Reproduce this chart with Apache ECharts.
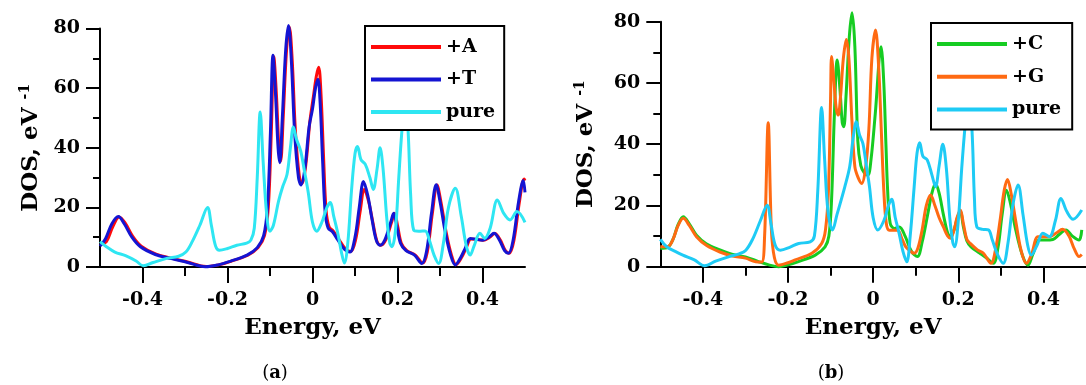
<!DOCTYPE html>
<html>
<head>
<meta charset="utf-8">
<script src="https://cdn.jsdelivr.net/npm/echarts@6/dist/echarts.min.js"></script>
<style>
  html, body { margin: 0; padding: 0; background: #fff; }
  #chart { width: 1086px; height: 385px; }
</style>
</head>
<body>
<div id="chart"></div>
<script>
// ---------- Data ----------
const majorEnergyTicks = [-0.4, -0.2, 0, 0.2, 0.4];
const minorEnergyTicks = [-0.3, -0.1, 0.1, 0.3];

// Panel (a): +A
const energyA = [-0.5, -0.485, -0.47, -0.455, -0.441, -0.423, -0.403, -0.368, -0.33, -0.294, -0.25, -0.218, -0.192, -0.152, -0.128, -0.113, -0.104, -0.097, -0.091, -0.085, -0.079, -0.075, -0.069, -0.061, -0.0545, -0.048, -0.04, -0.031, -0.025, -0.016, -0.006, 0.002, 0.009, 0.0145, 0.02, 0.026, 0.032, 0.039, 0.049, 0.062, 0.077, 0.09, 0.102, 0.112, 0.122, 0.132, 0.142, 0.152, 0.161, 0.172, 0.186, 0.193, 0.2, 0.209, 0.222, 0.242, 0.259, 0.27, 0.282, 0.293, 0.302, 0.314, 0.327, 0.338, 0.35, 0.362, 0.373, 0.387, 0.402, 0.417, 0.429, 0.442, 0.454, 0.463, 0.474, 0.487, 0.498, 0.5];
const dosA    = [7.5, 8.5, 13.5, 16.8, 14.8, 10.3, 7.0, 4.3, 2.9, 1.7, 0.2, 0.8, 1.9, 4.0, 6.5, 10.5, 20, 45, 70.5, 58, 40, 35.5, 50, 73, 80.5, 70, 45, 30.5, 28, 34, 49, 57, 64, 67, 58, 37, 19, 13.5, 12, 9.3, 6.2, 5.2, 9.5, 18.5, 26, 22, 15, 8.5, 7.3, 9, 15, 18, 14, 8, 5.5, 4, 1.3, 5, 18, 27.5, 22, 12, 4, 0.8, 3, 6.5, 9.4, 9.2, 9, 10, 11.2, 9, 5.5, 4.6, 9, 22, 29.5, 29];

// Panel (a): +T
const energyT = [-0.5, -0.487, -0.472, -0.457, -0.443, -0.425, -0.405, -0.37, -0.332, -0.296, -0.252, -0.22, -0.194, -0.154, -0.13, -0.115, -0.106, -0.099, -0.093, -0.087, -0.081, -0.077, -0.071, -0.063, -0.0565, -0.05, -0.042, -0.033, -0.027, -0.018, -0.008, 0.0, 0.007, 0.0127, 0.018, 0.024, 0.03, 0.037, 0.047, 0.06, 0.075, 0.088, 0.1, 0.11, 0.12, 0.13, 0.14, 0.15, 0.159, 0.17, 0.184, 0.191, 0.198, 0.207, 0.22, 0.24, 0.257, 0.268, 0.28, 0.291, 0.3, 0.312, 0.325, 0.336, 0.348, 0.36, 0.371, 0.385, 0.4, 0.415, 0.427, 0.44, 0.452, 0.461, 0.472, 0.485, 0.496, 0.5];
const dosT    = [7.0, 9.5, 14.5, 16.9, 14.5, 10.0, 6.8, 4.2, 2.8, 1.6, 0.1, 0.8, 1.9, 4.0, 6.5, 10.5, 20, 45, 71, 58, 40, 35, 50, 73, 81, 70, 45, 30, 27.5, 33, 47, 53, 60, 63, 55, 35, 18, 13, 11.8, 9, 6, 5, 10, 20, 28.7, 24, 16, 9, 7.3, 9, 15, 18, 14, 8, 5.5, 4, 1.2, 5, 18, 27.6, 22, 12, 4, 0.7, 3, 6.5, 9.6, 9.3, 9, 10, 11.3, 9, 5.5, 4.6, 9, 22, 29, 25];

// Panel (a): pure
const energyPureA = [-0.5, -0.485, -0.465, -0.44, -0.415, -0.398, -0.375, -0.343, -0.315, -0.298, -0.283, -0.265, -0.247, -0.238, -0.228, -0.219, -0.2, -0.178, -0.155, -0.145, -0.137, -0.13, -0.123, -0.116, -0.108, -0.1, -0.092, -0.08, -0.07, -0.06, -0.052, -0.045, -0.038, -0.028, -0.02, -0.01, 0.0, 0.01, 0.022, 0.034, 0.042, 0.05, 0.06, 0.068, 0.075, 0.083, 0.092, 0.1, 0.106, 0.114, 0.124, 0.135, 0.143, 0.152, 0.159, 0.166, 0.175, 0.182, 0.187, 0.195, 0.203, 0.21, 0.217, 0.224, 0.231, 0.238, 0.25, 0.265, 0.275, 0.286, 0.297, 0.308, 0.32, 0.336, 0.35, 0.362, 0.371, 0.38, 0.394, 0.405, 0.418, 0.435, 0.45, 0.465, 0.481, 0.5];
const dosPureA    = [8.5, 6.8, 5.0, 3.8, 2.0, 0.4, 1.5, 2.9, 3.6, 5.0, 8.5, 14, 20, 14, 7, 5.6, 6.2, 7.3, 8, 9, 13, 30, 52, 35, 18, 12, 14, 22, 27, 31, 40, 47, 43, 39, 33, 25, 15, 12, 15, 20, 21.6, 17, 11, 5, 1.3, 8, 26, 38, 40.4, 36, 34.5, 30, 26, 33, 40, 33, 16, 8, 6.8, 12, 30, 45, 55, 48, 24, 12.4, 12, 12.1, 9, 4, 1.2, 8, 20, 26.4, 17, 7, 4, 7, 11.3, 9.6, 13, 22.5, 18, 15.8, 18.6, 15];

// Panel (b): +C
const energyC = [-0.5, -0.482, -0.47, -0.458, -0.446, -0.432, -0.415, -0.392, -0.36, -0.33, -0.3, -0.268, -0.245, -0.222, -0.2, -0.177, -0.136, -0.113, -0.104, -0.0977, -0.091, -0.0844, -0.078, -0.0725, -0.0689, -0.064, -0.056, -0.0496, -0.043, -0.036, -0.029, -0.02, -0.0123, -0.005, 0.005, 0.0186, 0.025, 0.03, 0.034, 0.04, 0.05, 0.0614, 0.075, 0.09, 0.104, 0.115, 0.128, 0.138, 0.1465, 0.155, 0.165, 0.175, 0.1814, 0.19, 0.198, 0.2047, 0.212, 0.22, 0.23, 0.25, 0.265, 0.2823, 0.293, 0.303, 0.3133, 0.322, 0.335, 0.35, 0.3637, 0.375, 0.3907, 0.405, 0.422, 0.437, 0.4528, 0.468, 0.4837, 0.49];
const dosC    = [6.0, 6.4, 9, 13.8, 16.3, 14, 10.3, 7.5, 5.5, 4, 3.2, 1.6, 0.6, 0, 0.6, 1.6, 3.8, 6.5, 10, 21.8, 50, 67.5, 58, 47, 45.7, 55, 75, 82.9, 72, 41, 33, 30.5, 29.9, 35, 50, 71.8, 60, 40, 25, 14.2, 12.5, 13, 10, 5, 3.3, 8, 17, 24, 27.2, 24, 17, 11, 9.8, 12, 16, 18, 13, 8.5, 6.5, 4.5, 3, 1.1, 6, 17, 25, 21, 12, 4, 0.5, 4, 8.7, 8.7, 8.9, 10.5, 12, 10, 8.7, 12];

// Panel (b): +G
const energyG = [-0.5, -0.482, -0.47, -0.458, -0.446, -0.432, -0.415, -0.392, -0.36, -0.33, -0.3, -0.276, -0.262, -0.255, -0.2465, -0.239, -0.232, -0.222, -0.2, -0.183, -0.144, -0.121, -0.112, -0.105, -0.1, -0.0977, -0.093, -0.087, -0.082, -0.077, -0.07, -0.063, -0.057, -0.05, -0.043, -0.035, -0.027, -0.018, -0.01, -0.003, 0.0056, 0.013, 0.019, 0.025, 0.031, 0.038, 0.057, 0.068, 0.0767, 0.09, 0.0963, 0.105, 0.115, 0.125, 0.135, 0.145, 0.155, 0.165, 0.175, 0.1814, 0.19, 0.197, 0.2047, 0.212, 0.22, 0.228, 0.245, 0.259, 0.2768, 0.288, 0.298, 0.308, 0.3156, 0.324, 0.336, 0.348, 0.36, 0.372, 0.387, 0.4, 0.414, 0.43, 0.445, 0.46, 0.472, 0.4837, 0.49];
const dosG    = [6.5, 6.6, 9, 13.5, 15.8, 13.5, 9.8, 7, 4.8, 3.5, 2.8, 1.6, 1.5, 10, 47, 12, 3, 0.5, 1.3, 2.2, 4.4, 7.6, 12, 25, 55, 68.6, 62, 52, 49.5, 55, 68, 74.2, 68, 48, 32.7, 29, 27.2, 32, 45, 68, 77.3, 65, 45, 25, 14, 11.9, 11.9, 9, 6.5, 4.8, 4.4, 6, 12, 20, 23.4, 20, 16, 13, 10, 9.3, 12, 16, 18.5, 14, 9, 7.6, 5.5, 4.4, 1.1, 6, 15, 25, 28.5, 24, 14, 5, 1.1, 4, 9.8, 9.8, 9.8, 11, 12.2, 10, 6, 3.3, 4];

// Panel (b): pure
const energyPureB = [-0.5, -0.485, -0.465, -0.447, -0.42, -0.396, -0.37, -0.338, -0.315, -0.299, -0.283, -0.265, -0.249, -0.24, -0.23, -0.218, -0.195, -0.175, -0.148, -0.138, -0.13, -0.121, -0.114, -0.106, -0.0953, -0.085, -0.0666, -0.055, -0.047, -0.0395, -0.032, -0.024, -0.016, -0.0085, 0.0, 0.011, 0.025, 0.036, 0.0434, 0.052, 0.061, 0.07, 0.079, 0.087, 0.0963, 0.103, 0.1093, 0.117, 0.127, 0.138, 0.1465, 0.155, 0.1637, 0.172, 0.18, 0.187, 0.1915, 0.2, 0.208, 0.216, 0.224, 0.232, 0.238, 0.2435, 0.257, 0.2707, 0.28, 0.292, 0.3056, 0.317, 0.328, 0.3405, 0.352, 0.363, 0.3714, 0.385, 0.3986, 0.414, 0.428, 0.4412, 0.455, 0.4698, 0.49];
const dosPureB    = [8.9, 6.5, 5, 3.8, 2.2, 0.3, 1.8, 3.3, 4.2, 5.4, 9, 15, 20.1, 14, 7, 5.4, 6.4, 7.6, 8.1, 10, 25, 52, 35, 18, 12, 17, 26.1, 32.7, 42, 47.3, 43, 40.2, 33, 26, 16, 12, 15, 20, 22, 16, 10.9, 5, 1.6, 10, 26, 37, 40.5, 36, 34.9, 30, 26.1, 33, 40, 32, 16, 8, 6.5, 15, 32, 46, 56, 45, 22, 13, 12.2, 12, 8.7, 4, 1.1, 8, 20, 26.7, 17, 7, 3.8, 7, 10.9, 9.8, 15, 22.3, 18, 15.5, 18.5];

// ---------- Styling helpers ----------
const FONT = "'DejaVu Serif', 'Liberation Serif', serif";
const zip = (xs, ys) => xs.map((x, i) => [x, ys[i]]);
const fmtE = v => (Math.abs(v) < 1e-9 ? '0' : v.toFixed(1));

function xAxes(grid) {
  return [
    { gridIndex: grid, type: 'value', min: -0.5, max: 0.5, position: 'bottom',
      axisLine: { onZero: false, lineStyle: { color: '#000', width: 2 } },
      axisTick: { show: true, customValues: minorEnergyTicks, length: 9, lineStyle: { color: '#000', width: 2 } },
      axisLabel: { show: false }, splitLine: { show: false } },
    { gridIndex: grid, type: 'value', min: -0.5, max: 0.5, position: 'bottom',
      axisLine: { show: false, onZero: false },
      axisTick: { show: true, customValues: majorEnergyTicks, length: 16, lineStyle: { color: '#000', width: 2 } },
      axisLabel: { customValues: majorEnergyTicks, formatter: fmtE, margin: 24,
        fontFamily: FONT, fontWeight: 'bold', fontSize: 19, color: '#000' },
      splitLine: { show: false },
      name: 'Energy, eV', nameLocation: 'middle', nameGap: 50,
      nameTextStyle: { fontFamily: FONT, fontWeight: 'bold', fontSize: 23, color: '#000' } }
  ];
}
function yAxis(grid, gap) {
  return {
    gridIndex: grid, type: 'value', min: 0, max: 80, interval: 20, position: 'left',
    axisLine: { show: true, onZero: false, lineStyle: { color: '#000', width: 2 } },
    axisTick: { show: true, length: 14, lineStyle: { color: '#000', width: 2 } },
    minorTick: { show: true, splitNumber: 2, length: 7, lineStyle: { color: '#000', width: 2 } },
    axisLabel: { margin: 20, fontFamily: FONT, fontWeight: 'bold', fontSize: 19, color: '#000' },
    splitLine: { show: false },
    name: '{m|DOS, eV }{s|-1}', nameLocation: 'middle', nameRotate: 90, nameGap: gap,
    nameTextStyle: {
      rich: {
        m: { fontFamily: FONT, fontWeight: 'bold', fontSize: 23, lineHeight: 26, color: '#000' },
        s: { fontFamily: FONT, fontWeight: 'bold', fontSize: 14, lineHeight: 14, color: '#000', verticalAlign: 'top' }
      }
    }
  };
}
function line(name, data, color, xi, yi) {
  return { type: 'line', name, data, xAxisIndex: xi, yAxisIndex: yi, smooth: 0.35,
    showSymbol: false, symbol: 'none', clip: false,
    lineStyle: { color, width: 3 }, itemStyle: { color } };
}
function legend(names, left, top, gap, pad) {
  return { orient: 'vertical', left, top, data: names.map(n => ({ name: n, icon: 'rect' })),
    itemWidth: 70, itemHeight: 4, itemGap: gap, padding: pad,
    formatter: n => n.trim(),
    backgroundColor: '#fff', borderColor: '#000', borderWidth: 2, borderRadius: 0,
    textStyle: { fontFamily: FONT, fontWeight: 'bold', fontSize: 19, lineHeight: 20, color: '#000' },
    selectedMode: false };
}

const chart = echarts.init(document.getElementById('chart'), null, { renderer: 'canvas' });
chart.setOption({
  backgroundColor: '#fff',
  animation: false,
  grid: [
    { left: 100, top: 28.5, width: 425, height: 238.5 },
    { left: 660.3, top: 21.7, width: 430, height: 245 }
  ],
  xAxis: [...xAxes(0), ...xAxes(1)],
  yAxis: [yAxis(0, 56), yAxis(1, 61)],
  legend: [
    legend(['+A', '+T', 'pure'], 365, 26, 12.5, [11, 9, 8, 6]),
    legend(['+C', '+G', 'pure '], 931, 23, 12.75, [11, 11, 10, 6])
  ],
  series: [
    line('+A', zip(energyA, dosA), '#ff0a0a', 0, 0),
    line('+T', zip(energyT, dosT), '#1414d2', 0, 0),
    line('pure', zip(energyPureA, dosPureA), '#2ee6f2', 0, 0),
    line('+C', zip(energyC, dosC), '#16cc22', 2, 1),
    line('+G', zip(energyG, dosG), '#ff6a12', 2, 1),
    line('pure ', zip(energyPureB, dosPureB), '#1ecbf5', 2, 1)
  ],
  graphic: [
    { type: 'text', x: 275, y: 373, style: { text: '{p|(}{b|a}{p|)}', align: 'center', verticalAlign: 'middle',
      rich: { p: { fontFamily: FONT, fontSize: 18, fill: '#000' }, b: { fontFamily: FONT, fontSize: 18, fontWeight: 'bold', fill: '#000' } } } },
    { type: 'text', x: 831, y: 373, style: { text: '{p|(}{b|b}{p|)}', align: 'center', verticalAlign: 'middle',
      rich: { p: { fontFamily: FONT, fontSize: 18, fill: '#000' }, b: { fontFamily: FONT, fontSize: 18, fontWeight: 'bold', fill: '#000' } } } }
  ]
});
</script>
</body>
</html>
